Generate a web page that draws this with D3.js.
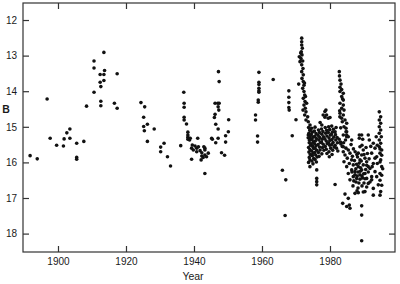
<!DOCTYPE html>
<html>
<head>
<meta charset="utf-8">
<script src="https://cdn.jsdelivr.net/npm/d3@7"></script>
<style>
  html, body { margin: 0; padding: 0; background: #fff; }
  svg { display: block; }
  text { font-family: "Liberation Sans", Arial, sans-serif; fill: #1a1a1a; }
</style>
</head>
<body>
<svg id="chart" width="400" height="284"></svg>
<script>
// ---- data: [year, B magnitude] ----
const early = [
  [1891.8,15.81],[1893.9,15.90],[1896.8,14.22],[1897.7,15.32],[1899.6,15.52],[1901.6,15.54],
  [1901.8,15.34],[1902.6,15.17],[1903.5,15.06],[1903.5,15.32],[1905.5,15.46],[1905.5,15.86],
  [1905.5,15.91],[1907.6,15.41],[1908.4,14.42],[1910.6,13.15],[1910.6,13.35],[1910.6,14.03],
  [1912.4,13.53],[1912.4,13.75],[1912.6,13.87],[1912.6,14.28],[1912.6,14.41],[1913.5,12.91],
  [1913.5,13.53],[1913.7,13.42],[1913.5,13.70],[1916.6,14.34],[1917.4,14.48],[1917.4,13.51]
];
const mid = [
  [1924.4,14.32],[1925.5,14.44],[1925.2,14.73],[1926.3,14.93],[1925.2,14.99],[1925.4,15.11],
  [1928.3,15.06],[1926.3,15.41],[1931.2,15.46],[1930.2,15.57],[1930.2,15.70],[1932.2,15.84],
  [1933.1,16.10],[1936.1,15.53],[1937.0,14.03],[1937.1,14.34],[1937.1,14.45],[1937.1,14.73],
  [1937.1,14.81],[1937.8,14.92],[1938.2,15.15],[1938.2,15.23],[1938.2,15.29],[1938.2,15.35],
  [1938.7,15.37],[1938.9,15.32],[1941.1,15.32],[1939.5,15.51],[1940.3,15.54],[1940.8,15.60],
  [1941.3,15.56],[1939.3,15.60],[1939.8,15.65],[1940.8,15.70],[1941.8,15.67],[1942.3,15.73],
  [1943.2,15.60],[1942.3,15.82],[1943.2,15.79],[1944.2,15.74],[1943.7,15.84],[1942.7,15.86],
  [1942.9,15.56],[1943.2,15.65],[1942.1,15.93],[1939.3,15.91],[1943.2,16.31],
  [1945.2,15.32],[1945.4,15.35],[1946.2,14.34],[1947.0,14.34],[1947.4,14.34],[1947.1,14.44],
  [1947.3,14.53],[1946.2,14.65],[1946.0,14.74],[1946.4,14.93],[1947.1,15.06],[1947.1,15.32],
  [1946.4,15.45],[1947.2,13.45],[1947.4,13.73],[1948.1,15.73],[1949.0,15.80],[1950.2,14.80],
  [1950.1,15.14],[1949.3,15.25],[1949.3,15.43]
];
const sixties = [
  [1959.1,13.47],[1959.1,13.75],[1959.1,13.81],[1959.1,13.92],[1959.1,13.99],[1959.1,14.03],
  [1958.9,14.25],[1958.9,14.31],[1958.1,14.67],[1958.1,14.81],[1958.7,15.26],[1958.7,15.43],
  [1963.3,13.67],[1967.9,13.99],[1967.9,14.17],[1967.9,14.32],[1967.9,14.46],[1968.0,14.53],
  [1968.9,15.25],[1966.0,16.22],[1967.0,16.49],[1966.8,17.49],[1970.0,14.80],[1970.8,13.80]
];
const outburst = [
  [1971.68,12.51],[1971.68,12.61],[1971.68,12.70],[1971.85,12.79],[1971.56,12.89],[1971.76,12.98],
  [1971.47,13.08],[1971.18,13.17],[1971.97,13.15],[1971.68,13.26],[1972.06,13.36],[1971.68,13.45],
  [1972.15,13.54],[1971.76,13.64],[1972.15,13.73],[1972.35,13.83],[1971.97,13.92],[1972.35,14.01],
  [1972.56,14.11],[1972.15,14.20],[1972.65,14.29],[1972.35,14.39],[1973.13,14.34],[1972.74,14.48],
  [1972.94,14.58],[1972.56,14.67],[1973.44,14.72],[1972.94,14.81],[1973.62,14.86],[1974.12,14.95],
  [1974.12,15.09],[1973.62,15.23],[1974.12,15.32],[1970.97,13.03],[1971.38,12.93],[1972.50,13.77],
  [1972.79,14.15],[1972.06,14.53]
];
const plateau = [
  [1973.7,15.02],[1974.1,15.10],[1973.8,15.18],[1974.2,15.25],[1973.6,15.31],[1974.0,15.38],
  [1973.9,15.45],[1974.3,15.52],[1973.7,15.58],[1974.1,15.64],[1973.8,15.71],[1974.2,15.78],
  [1973.9,15.86],[1974.1,15.93],[1973.7,16.00],[1974.1,16.12],
  [1974.6,15.04],[1974.8,15.15],[1974.5,15.22],[1975.0,15.29],[1974.7,15.36],[1975.1,15.42],
  [1974.5,15.48],[1974.9,15.55],[1975.2,15.61],[1974.6,15.68],[1975.0,15.74],[1974.8,15.81],
  [1975.2,15.89],[1974.7,15.96],[1975.0,16.04],
  [1975.6,15.01],[1975.4,15.12],[1975.9,15.19],[1975.5,15.27],[1976.0,15.33],[1975.7,15.40],
  [1975.4,15.47],[1975.9,15.53],[1975.6,15.60],[1976.1,15.66],[1975.5,15.72],[1975.8,15.79],
  [1976.2,15.85],[1975.6,15.92],[1976.0,15.99],[1976.1,16.21],[1976.1,16.45],[1976.1,16.54],
  [1976.1,16.63],
  [1976.6,15.09],[1976.9,15.16],[1976.5,15.24],[1977.0,15.30],[1976.7,15.37],[1977.2,15.44],
  [1976.5,15.50],[1976.9,15.57],[1977.1,15.65],[1976.6,15.72],[1976.8,15.83],[1977.1,14.88],
  [1977.6,14.95],[1977.5,15.06],[1977.9,15.13],[1977.6,15.21],[1978.1,15.28],[1977.7,15.35],
  [1977.5,15.43],[1978.0,15.49],[1977.8,15.58],[1978.2,15.66],[1977.6,15.76],[1978.0,14.67],
  [1978.8,14.53],[1978.5,14.73],[1978.6,15.02],[1979.0,15.10],[1978.7,15.18],[1979.1,15.26],
  [1978.5,15.34],[1978.9,15.40],[1979.2,15.47],[1978.6,15.55],[1978.9,15.63],[1979.1,15.75],
  [1978.5,14.57],[1979.0,14.67],
  [1979.5,14.76],[1980.0,14.74],[1979.6,15.00],[1979.9,15.08],[1979.5,15.16],[1980.1,15.23],
  [1979.7,15.31],[1980.0,15.38],[1979.6,15.45],[1979.9,15.52],[1980.2,15.60],[1979.7,15.70],
  [1979.8,15.84],
  [1980.5,14.98],[1981.0,15.07],[1980.7,15.15],[1980.4,15.22],[1981.1,15.29],[1980.6,15.36],
  [1980.9,15.44],[1980.5,15.50],[1981.2,15.57],[1980.8,15.66],[1980.6,15.78],
  [1981.5,15.14],[1981.8,15.02],[1981.6,15.22],[1982.1,15.30],[1981.7,15.37],[1982.2,15.45],
  [1981.5,15.52],[1981.9,15.60],[1982.3,15.68],[1981.5,16.62],[1982.9,14.72]
];
const flare83 = [
  [1982.74,13.45],[1982.94,13.69],[1982.94,13.89],[1983.44,13.95],[1982.94,14.01],[1983.91,14.06],
  [1983.44,14.15],[1983.91,14.25],[1982.94,14.34],[1983.91,14.39],[1983.44,14.48],[1984.12,14.53],
  [1982.94,14.62],[1983.91,14.67],[1983.44,14.76],[1984.41,14.81],[1984.91,14.90],[1984.12,15.00],
  [1984.91,15.14],[1983.91,15.23],[1984.91,15.28],[1982.79,13.57],[1983.24,13.80],[1983.68,14.21],
  [1982.85,14.55],[1983.62,14.86],[1983.15,15.03],[1984.56,15.37],[1983.09,15.43],[1983.2,15.48],
  [1983.6,15.55],[1982.7,15.35],[1984.0,15.45]
];
const recent = [
  [1984.71,15.04],[1984.71,15.14],[1984.91,15.23],[1983.91,15.56],[1984.71,15.60],[1985.38,15.65],
  [1983.91,15.70],[1985.88,15.74],[1984.41,15.79],[1985.09,15.88],[1986.38,15.93],[1984.12,15.98],
  [1985.68,16.03],[1986.85,16.07],[1984.91,16.12],[1986.38,16.21],[1987.35,16.26],[1985.38,16.31],
  [1986.85,16.40],[1987.85,16.45],[1989.32,15.23],[1989.62,15.35],[1991.26,15.23],[1991.56,15.37],
  [1988.82,15.56],[1989.79,15.65],[1988.32,15.74],[1989.32,15.79],[1990.29,15.88],[1988.82,15.93],
  [1990.79,15.98],[1989.79,16.07],[1988.32,16.12],[1991.26,16.12],[1989.32,16.21],[1990.29,16.31],
  [1988.82,16.35],[1990.79,16.45],
  [1994.50,14.58],[1994.91,14.72],[1994.50,14.81],[1994.91,14.90],[1994.50,15.00],[1994.91,15.09],
  [1994.50,15.18],[1995.09,15.28],[1994.50,15.37],[1994.91,15.46],[1994.50,15.56],[1995.21,15.65],
  [1994.71,15.74],[1993.74,15.84],[1994.91,15.93],[1993.91,16.03],[1995.21,16.12],
  [1992.74,15.46],[1993.24,15.60],[1992.26,15.74],[1993.24,15.88],[1992.74,16.03],[1991.76,16.17],
  [1993.24,16.26],[1992.26,16.40],
  [1986.47,16.27],[1987.35,16.35],[1988.24,16.27],[1989.41,16.38],[1985.88,16.49],[1987.65,16.55],
  [1988.82,16.47],[1990.00,16.58],[1986.76,16.66],[1988.24,16.72],[1989.41,16.66],[1987.94,16.80],
  [1983.74,17.15],[1984.91,17.24],[1985.68,17.20],[1985.88,17.29],[1985.38,17.01],[1984.41,16.89],
  [1987.35,16.87],[1988.32,16.85],[1990.29,16.82],[1989.32,17.22],[1989.32,17.48],[1989.32,18.20],
  [1992.74,16.92],[1994.71,16.92],[1994.91,16.82],[1991.26,16.59],[1992.26,16.49],[1993.74,16.40],
  [1994.21,16.63],[1994.71,16.31],[1992.74,16.73],
  [1994.71,15.62],[1995.21,15.80],[1994.71,15.99],[1995.50,16.18],[1995.21,16.36],[1994.71,16.50],
  [1995.21,16.64],[1990.79,16.08],[1991.26,16.27],[1990.29,16.46],[1991.76,16.55],[1990.79,16.69],
  [1989.79,16.83],[1988.62,15.23],[1988.62,15.32],[1985.38,15.28],[1986.38,15.37],
  [1986.9,15.62],[1987.4,15.70],[1987.9,15.78],[1988.1,15.85],[1987.2,15.95],[1988.6,16.02],
  [1989.0,16.15],[1987.6,16.18],[1988.9,16.25],[1989.6,16.44],[1987.0,16.52],[1988.5,16.58],
  [1989.9,16.32],[1990.5,16.20],[1990.0,15.78],[1989.4,15.52],[1986.2,15.50],[1988.0,16.38],
  [1987.8,16.05],[1989.2,15.96],[1986.6,15.83],[1990.6,15.58],[1991.0,15.75],[1991.5,15.90],
  [1992.0,15.55],[1993.6,15.28],[1993.9,15.52],[1992.4,16.12]
];
const xTicks = [1900, 1920, 1940, 1960, 1980];
const yTicks = [12, 13, 14, 15, 16, 17, 18];
const xTitle = "Year";
const yTitle = "B";

// ---- layout ----
const svg = d3.select("#chart");
const L = 23, R = 395, T = 3, B = 252;
const x = d3.scaleLinear().domain([1889.71, 1999.12]).range([L, R]);
const y = d3.scaleLinear().domain([11.522, 18.517]).range([T, B]);
const ink = "#333";

const all = [].concat(early, mid, sixties, outburst, plateau, flare83, recent);

svg.append("g").selectAll("circle").data(all).join("circle")
  .attr("cx", d => x(d[0])).attr("cy", d => y(d[1]))
  .attr("r", 1.8).attr("fill", "#111");

// frame
svg.append("rect").attr("x", L).attr("y", T).attr("width", R - L).attr("height", B - T)
  .attr("fill", "none").attr("stroke", ink).attr("stroke-width", 1.2);

function style(g, labels) {
  g.select(".domain").remove();
  g.selectAll(".tick line").attr("stroke", ink).attr("stroke-width", 1.2);
  g.selectAll(".tick text").attr("font-size", 10).attr("fill", "#1a1a1a")
    .attr("font-family", "Liberation Sans, Arial, sans-serif");
  if (!labels) g.selectAll(".tick text").remove();
}

svg.append("g").attr("transform", `translate(0,${B})`)
  .call(d3.axisBottom(x).tickValues(xTicks).tickFormat(d3.format("d")).tickSize(-6).tickPadding(6))
  .call(g => style(g, true));
svg.append("g").attr("transform", `translate(0,${T})`)
  .call(d3.axisTop(x).tickValues(xTicks).tickSize(-6))
  .call(g => style(g, false));
svg.append("g").attr("transform", `translate(${L},0)`)
  .call(d3.axisLeft(y).tickValues(yTicks).tickFormat(d3.format("d")).tickSize(-6).tickPadding(6))
  .call(g => style(g, true));
svg.append("g").attr("transform", `translate(${R},0)`)
  .call(d3.axisRight(y).tickValues(yTicks).tickSize(-6))
  .call(g => style(g, false));

svg.append("text").attr("x", 193).attr("y", 280).attr("text-anchor", "middle")
  .attr("font-size", 10.5).text(xTitle);
svg.append("text").attr("x", 6).attr("y", 113).attr("text-anchor", "middle")
  .attr("font-size", 10.5).attr("font-weight", "bold").text(yTitle);
</script>
</body>
</html>
